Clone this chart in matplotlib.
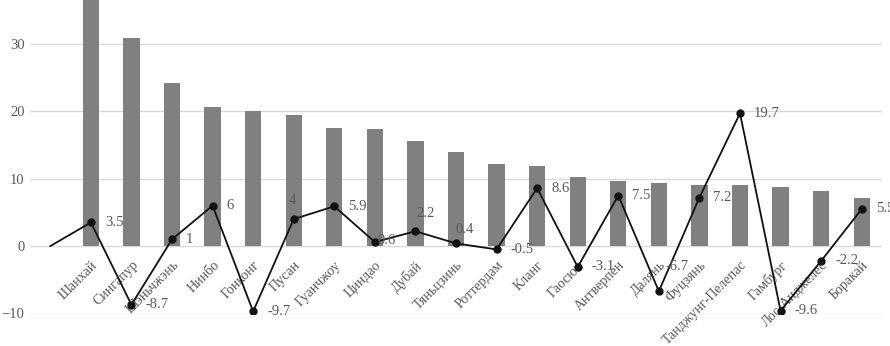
import numpy as np
import matplotlib
matplotlib.use('Agg')
from matplotlib import pyplot as plt

plt.rcParams['font.family'] = ['Liberation Serif', 'DejaVu Serif']

ports = ['Шанхай', 'Сингапур', 'Шэньчжэнь', 'Нинбо', 'Гонконг', 'Пусан', 'Гуанчжоу',
         'Циндао', 'Дубай', 'Тяньцзинь', 'Роттердам', 'Кланг', 'Гаосюн', 'Антверпен',
         'Далянь', 'Фуцзянь', 'Танджунг-Пелепас', 'Гамбург', 'Лос-Анджелес', 'Боракай']
throughput = [36.5, 30.9, 24.2, 20.6, 20.1, 19.4, 17.5, 17.4, 15.6, 14.0,
              12.2, 11.9, 10.2, 9.6, 9.4, 9.1, 9.1, 8.8, 8.2, 7.1]
growth = [3.5, -8.7, 1, 6, -9.7, 4, 5.9, 0.6, 2.2, 0.4,
          -0.5, 8.6, -3.1, 7.5, -6.7, 7.2, 19.7, -9.6, -2.2, 5.5]
growth_start = 0.0  # line starts from the empty slot before the first port

# label offsets in pixels (dx from point to text left edge, dy up)
label_off = {5: (-5, 19), 7: (3, 2), 8: (1, 18), 9: (0, 14), 14: (7, 25)}

fig = plt.figure(figsize=(8.9, 3.46), dpi=100)
ax = fig.add_axes([30 / 890, 32.5 / 346, 852 / 890, 313.5 / 346])

x = np.arange(len(ports))
ax.bar(x, throughput, width=0.4, color='#808080', zorder=2)

lx = np.concatenate([[x[0] - 1], x])
ly = np.concatenate([[growth_start], growth])
ax.plot(lx, ly, color='#111111', lw=1.3, zorder=3)
ax.plot(x, growth, 'o', color='#111111', ms=5, zorder=4)

for i, v in enumerate(growth):
    dx, dy = label_off.get(i, (14, 0))
    ax.annotate(f'{v:g}', (x[i], v), xytext=(dx * 0.72, dy * 0.72), textcoords='offset points',
                ha='left', va='center', fontsize=10.5, color='#595959', zorder=5,
                annotation_clip=False)

ax.set_xlim(-1.5, 19.5)
ax.set_ylim(-10, 36.5)
ax.set_yticks([-10, 0, 10, 20, 30])
ax.yaxis.grid(True, color='#d9d9d9', lw=1)
ax.set_axisbelow(True)
for s in ax.spines.values():
    s.set_visible(False)
ax.spines['bottom'].set_position(('data', 0))
ax.set_xticks(x)
ax.set_xticklabels(ports, rotation=45, ha='right', va='top', rotation_mode='anchor',
                   fontsize=10, color='#595959')
ax.tick_params(axis='x', length=0, pad=9)
ax.tick_params(axis='y', length=0, pad=4, labelsize=10.5, labelcolor='#595959')

fig.savefig('out.png', dpi=100)
